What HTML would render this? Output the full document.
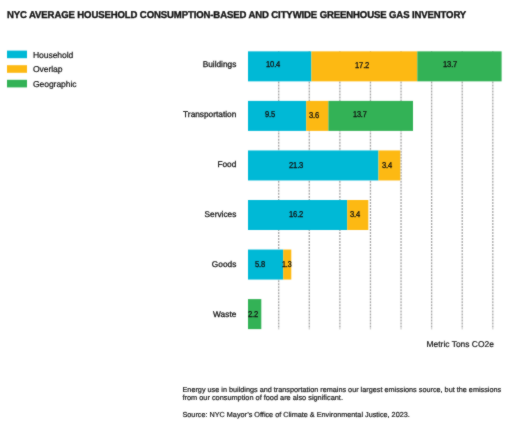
<!DOCTYPE html>
<html><head><meta charset="utf-8"><style>
html,body{margin:0;padding:0;background:#fff;width:528px;height:433px;overflow:hidden;position:relative}
#w{position:absolute;left:0;top:0;width:528px;height:433px;background:#fff;filter:url(#b)}
#s{position:absolute;left:0;top:0}
.t{position:absolute;font-family:"Liberation Sans",sans-serif;line-height:1;white-space:nowrap;-webkit-text-stroke:0.2px currentColor;text-rendering:geometricPrecision}
</style></head><body><svg width="0" height="0" style="position:absolute"><filter id="b" color-interpolation-filters="sRGB" x="0" y="0" width="100%" height="100%"><feConvolveMatrix order="3" kernelMatrix="1 2 1 2 20 2 1 2 1" divisor="32" edgeMode="duplicate"/></filter></svg><div id="w">
<svg id="s" width="528" height="433" viewBox="0 0 528 433"><rect x="7.00" y="50.60" width="20.00" height="7.60" fill="#00b9d6"/><rect x="7.00" y="65.20" width="20.00" height="7.60" fill="#fdb913"/><rect x="7.00" y="79.80" width="20.00" height="7.60" fill="#33b256"/><line x1="278.70" y1="51.26" x2="278.70" y2="329.3" stroke="#a6a6a6" stroke-width="1.3" stroke-dasharray="2 1.013"/><line x1="309.29" y1="51.26" x2="309.29" y2="329.3" stroke="#a6a6a6" stroke-width="1.3" stroke-dasharray="2 1.013"/><line x1="339.87" y1="51.26" x2="339.87" y2="329.3" stroke="#a6a6a6" stroke-width="1.3" stroke-dasharray="2 1.013"/><line x1="370.46" y1="51.26" x2="370.46" y2="329.3" stroke="#a6a6a6" stroke-width="1.3" stroke-dasharray="2 1.013"/><line x1="401.04" y1="51.26" x2="401.04" y2="329.3" stroke="#a6a6a6" stroke-width="1.3" stroke-dasharray="2 1.013"/><line x1="431.63" y1="51.26" x2="431.63" y2="329.3" stroke="#a6a6a6" stroke-width="1.3" stroke-dasharray="2 1.013"/><line x1="462.22" y1="51.26" x2="462.22" y2="329.3" stroke="#a6a6a6" stroke-width="1.3" stroke-dasharray="2 1.013"/><line x1="492.80" y1="51.26" x2="492.80" y2="329.3" stroke="#a6a6a6" stroke-width="1.3" stroke-dasharray="2 1.013"/><rect x="248.00" y="51.35" width="63.40" height="30.00" fill="#00b9d6"/><rect x="311.40" y="51.35" width="105.90" height="30.00" fill="#fdb913"/><rect x="417.30" y="51.35" width="84.30" height="30.00" fill="#33b256"/><rect x="248.00" y="100.90" width="58.20" height="30.00" fill="#00b9d6"/><rect x="306.20" y="100.90" width="22.20" height="30.00" fill="#fdb913"/><rect x="328.40" y="100.90" width="84.60" height="30.00" fill="#33b256"/><rect x="248.00" y="150.45" width="130.50" height="30.00" fill="#00b9d6"/><rect x="378.50" y="150.45" width="21.80" height="30.00" fill="#fdb913"/><rect x="248.00" y="200.00" width="99.20" height="30.00" fill="#00b9d6"/><rect x="347.20" y="200.00" width="21.10" height="30.00" fill="#fdb913"/><rect x="248.00" y="249.55" width="35.20" height="30.00" fill="#00b9d6"/><rect x="283.20" y="249.55" width="8.10" height="30.00" fill="#fdb913"/><rect x="248.00" y="299.10" width="13.30" height="30.00" fill="#33b256"/></svg>
<div class="t" style="right:291.70px;top:60.47px;font-size:8.3px;color:#151515;-webkit-text-stroke:0.28px #151515">Buildings</div>
<div class="t" style="left:265.80px;top:60.40px;font-size:8.5px;color:#111;letter-spacing:-0.15px;-webkit-text-stroke:0.3px #111;transform:scaleX(0.89);transform-origin:0 0">10.4</div>
<div class="t" style="left:355.45px;top:61.10px;font-size:8.5px;color:#111;letter-spacing:-0.15px;-webkit-text-stroke:0.3px #111;transform:scaleX(0.89);transform-origin:0 0">17.2</div>
<div class="t" style="left:442.95px;top:60.10px;font-size:8.5px;color:#111;letter-spacing:-0.15px;-webkit-text-stroke:0.3px #111;transform:scaleX(0.89);transform-origin:0 0">13.7</div>
<div class="t" style="right:291.70px;top:110.47px;font-size:8.3px;color:#151515;-webkit-text-stroke:0.28px #151515">Transportation</div>
<div class="t" style="left:265.20px;top:110.40px;font-size:8.5px;color:#111;letter-spacing:-0.15px;-webkit-text-stroke:0.3px #111;transform:scaleX(0.89);transform-origin:0 0">9.5</div>
<div class="t" style="left:308.95px;top:111.30px;font-size:8.5px;color:#111;letter-spacing:-0.15px;-webkit-text-stroke:0.3px #111;transform:scaleX(0.89);transform-origin:0 0">3.6</div>
<div class="t" style="left:352.70px;top:110.40px;font-size:8.5px;color:#111;letter-spacing:-0.15px;-webkit-text-stroke:0.3px #111;transform:scaleX(0.86);transform-origin:0 0">13.7</div>
<div class="t" style="right:291.70px;top:160.47px;font-size:8.3px;color:#151515;-webkit-text-stroke:0.28px #151515">Food</div>
<div class="t" style="left:288.95px;top:160.70px;font-size:8.5px;color:#111;letter-spacing:-0.15px;-webkit-text-stroke:0.3px #111;transform:scaleX(0.89);transform-origin:0 0">21.3</div>
<div class="t" style="left:382.20px;top:160.80px;font-size:8.5px;color:#111;letter-spacing:-0.15px;-webkit-text-stroke:0.3px #111;transform:scaleX(0.89);transform-origin:0 0">3.4</div>
<div class="t" style="right:291.70px;top:210.47px;font-size:8.3px;color:#151515;-webkit-text-stroke:0.28px #151515">Services</div>
<div class="t" style="left:288.95px;top:210.40px;font-size:8.5px;color:#111;letter-spacing:-0.15px;-webkit-text-stroke:0.3px #111;transform:scaleX(0.89);transform-origin:0 0">16.2</div>
<div class="t" style="left:350.20px;top:210.40px;font-size:8.5px;color:#111;letter-spacing:-0.15px;-webkit-text-stroke:0.3px #111;transform:scaleX(0.89);transform-origin:0 0">3.4</div>
<div class="t" style="right:291.70px;top:260.47px;font-size:8.3px;color:#151515;-webkit-text-stroke:0.28px #151515">Goods</div>
<div class="t" style="left:255.45px;top:260.40px;font-size:8.5px;color:#111;letter-spacing:-0.15px;-webkit-text-stroke:0.3px #111;transform:scaleX(0.89);transform-origin:0 0">5.8</div>
<div class="t" style="left:282.40px;top:260.40px;font-size:8.5px;color:#111;letter-spacing:-0.15px;-webkit-text-stroke:0.3px #111;transform:scaleX(0.83);transform-origin:0 0">1.3</div>
<div class="t" style="right:291.70px;top:310.47px;font-size:8.3px;color:#151515;-webkit-text-stroke:0.28px #151515">Waste</div>
<div class="t" style="left:248.30px;top:310.40px;font-size:8.5px;color:#111;letter-spacing:-0.15px;-webkit-text-stroke:0.3px #111;transform:scaleX(0.89);transform-origin:0 0">2.2</div>
<div class="t" style="left:7.30px;top:10.62px;font-size:9.9px;font-weight:bold;color:#111;letter-spacing:-0.12px;-webkit-text-stroke:0.35px #111;transform:scaleX(0.968);transform-origin:0 0">NYC AVERAGE HOUSEHOLD CONSUMPTION-BASED AND CITYWIDE GREENHOUSE GAS INVENTORY</div>
<div class="t" style="left:33.00px;top:50.82px;font-size:8.6px;color:#151515;letter-spacing:-0.1px;">Household</div>
<div class="t" style="left:33.00px;top:65.42px;font-size:8.6px;color:#151515;letter-spacing:-0.1px;">Overlap</div>
<div class="t" style="left:33.00px;top:80.02px;font-size:8.6px;color:#151515;letter-spacing:-0.1px;">Geographic</div>
<div class="t" style="left:426.50px;top:340.05px;font-size:8.45px;color:#151515;">Metric Tons CO2e</div>
<div class="t" style="left:182.50px;top:386.15px;font-size:7.27px;color:#151515;">Energy use in buildings and transportation remains our largest emissions source, but the emissions</div>
<div class="t" style="left:182.50px;top:394.38px;font-size:7.35px;color:#151515;">from our consumption of food are also significant.</div>
<div class="t" style="left:182.50px;top:411.16px;font-size:7.25px;color:#151515;">Source: NYC Mayor&#8217;s Office of Climate &amp; Environmental Justice, 2023.</div>
</div></body></html>
